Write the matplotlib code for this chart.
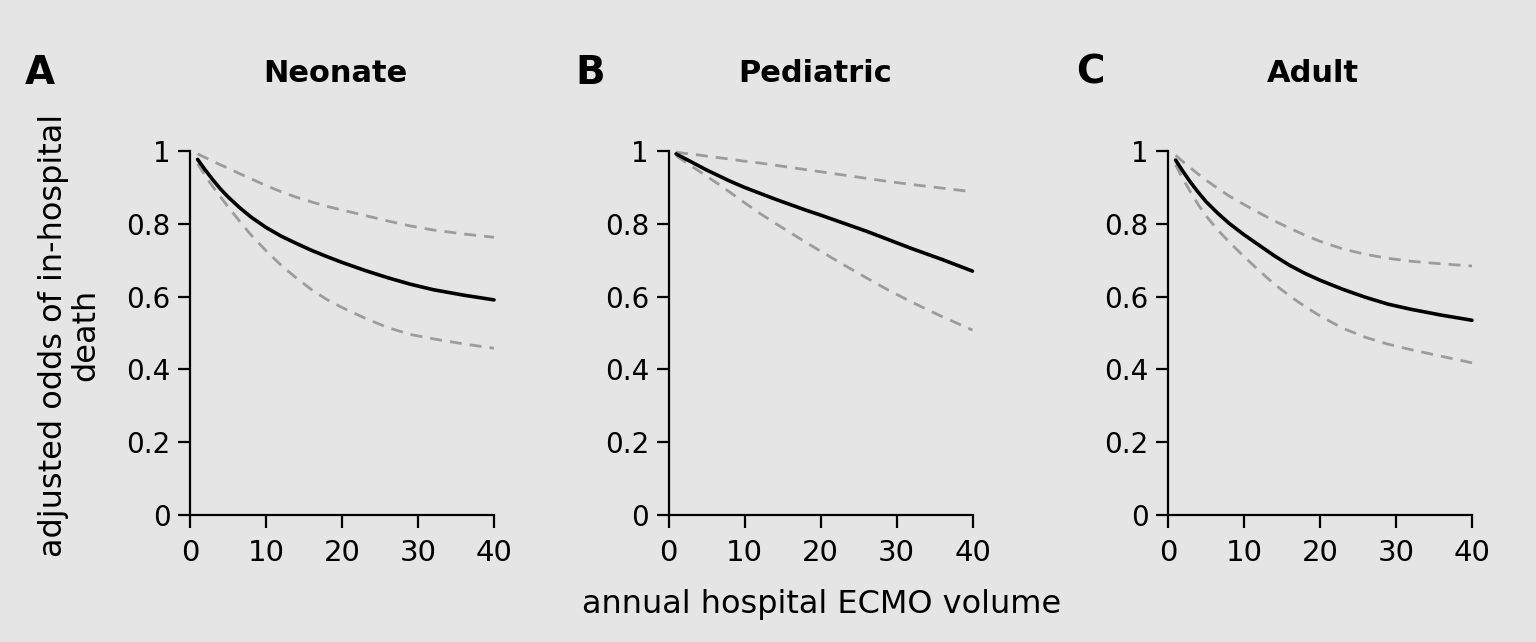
import matplotlib
matplotlib.use("Agg")
import matplotlib.pyplot as plt

plt.rcParams['font.family'] = ['DejaVu Sans']

# ---- data ----
volume = [1, 2, 3, 4, 5, 6.5, 8, 10, 12, 14, 16, 18, 20, 23, 26, 29, 32, 36, 40]

neonate_est   = [0.977, 0.948, 0.921, 0.896, 0.874, 0.845, 0.819, 0.790, 0.766, 0.746, 0.727, 0.710, 0.694, 0.672, 0.652, 0.634, 0.619, 0.604, 0.591]
neonate_upper = [0.992, 0.982, 0.972, 0.962, 0.953, 0.938, 0.924, 0.905, 0.888, 0.873, 0.860, 0.848, 0.838, 0.823, 0.808, 0.794, 0.783, 0.772, 0.763]
neonate_lower = [0.965, 0.932, 0.902, 0.874, 0.847, 0.808, 0.770, 0.726, 0.686, 0.651, 0.619, 0.592, 0.570, 0.541, 0.515, 0.496, 0.484, 0.470, 0.458]

pediatric_est   = [0.992, 0.981, 0.970, 0.959, 0.948, 0.933, 0.918, 0.900, 0.884, 0.868, 0.853, 0.838, 0.824, 0.802, 0.780, 0.756, 0.732, 0.702, 0.670]
pediatric_upper = [0.997, 0.994, 0.991, 0.989, 0.986, 0.982, 0.978, 0.972, 0.967, 0.961, 0.955, 0.949, 0.943, 0.934, 0.925, 0.916, 0.908, 0.898, 0.888]
pediatric_lower = [0.987, 0.973, 0.959, 0.945, 0.931, 0.910, 0.888, 0.858, 0.829, 0.802, 0.776, 0.750, 0.725, 0.688, 0.652, 0.617, 0.585, 0.545, 0.508]

adult_est   = [0.975, 0.943, 0.913, 0.886, 0.861, 0.830, 0.802, 0.770, 0.741, 0.712, 0.686, 0.664, 0.645, 0.620, 0.598, 0.579, 0.565, 0.549, 0.535]
adult_upper = [0.988, 0.970, 0.953, 0.936, 0.920, 0.898, 0.877, 0.853, 0.830, 0.808, 0.788, 0.769, 0.752, 0.731, 0.716, 0.705, 0.697, 0.690, 0.684]
adult_lower = [0.962, 0.922, 0.886, 0.852, 0.822, 0.784, 0.751, 0.710, 0.671, 0.634, 0.602, 0.573, 0.547, 0.513, 0.488, 0.469, 0.454, 0.436, 0.418]

panel_letters = ["A", "B", "C"]
panel_titles = ["Neonate", "Pediatric", "Adult"]
estimates = [neonate_est, pediatric_est, adult_est]
uppers = [neonate_upper, pediatric_upper, adult_upper]
lowers = [neonate_lower, pediatric_lower, adult_lower]

x_ticks = [0, 10, 20, 30, 40]
y_ticks = [0, 0.2, 0.4, 0.6, 0.8, 1]
y_ticklabels = ["0", "0.2", "0.4", "0.6", "0.8", "1"]

ylabel = "adjusted odds of in-hospital\ndeath"
xlabel = "annual hospital ECMO volume"

# ---- layout ----
W, H = 1536, 642
bg = "#e5e5e5"
fig = plt.figure(figsize=(W / 100, H / 100), dpi=100, facecolor=bg)

lefts = [190, 668.5, 1168]
width_px = 304
bottom_px = 515
top_px = 151
title_x = [335, 815, 1313]
letter_x = [40, 590, 1090]

for i in range(3):
    ax = fig.add_axes([lefts[i] / W, (H - bottom_px) / H, width_px / W, (bottom_px - top_px) / H])
    ax.set_facecolor(bg)
    ax.plot(volume, uppers[i], color="#9c9c9c", lw=2.0, dashes=(4.3, 2.9), clip_on=False)
    ax.plot(volume, lowers[i], color="#9c9c9c", lw=2.0, dashes=(4.3, 2.9), clip_on=False)
    ax.plot(volume, estimates[i], color="black", lw=2.6, clip_on=False,
            solid_capstyle="round", solid_joinstyle="round")
    ax.set_xlim(0, 40)
    ax.set_ylim(0, 1)
    ax.set_xticks(x_ticks)
    ax.set_yticks(y_ticks)
    ax.set_yticklabels(y_ticklabels)
    for s in ["top", "right"]:
        ax.spines[s].set_visible(False)
    for s in ["left", "bottom"]:
        ax.spines[s].set_linewidth(1.6)
    ax.tick_params(axis="both", direction="out", length=9, width=1.6, color="black")
    ax.tick_params(axis="y", labelsize=20, pad=5)
    ax.tick_params(axis="x", labelsize=21, pad=8.5)

    fig.text(title_x[i] / W, 1 - 73 / H, panel_titles[i], ha="center", va="center",
             fontsize=22, fontweight="bold")
    fig.text(letter_x[i] / W, 1 - 73 / H, panel_letters[i], ha="center", va="center",
             fontsize=28, fontweight="bold")

fig.text(70 / W, 1 - 335 / H, ylabel, rotation=90, ha="center", va="center",
         fontsize=23, linespacing=1.05, multialignment="center")
fig.text(822 / W, 1 - 604 / H, xlabel, ha="center", va="center", fontsize=23)

fig.savefig("out.png", dpi=100, facecolor=bg)
